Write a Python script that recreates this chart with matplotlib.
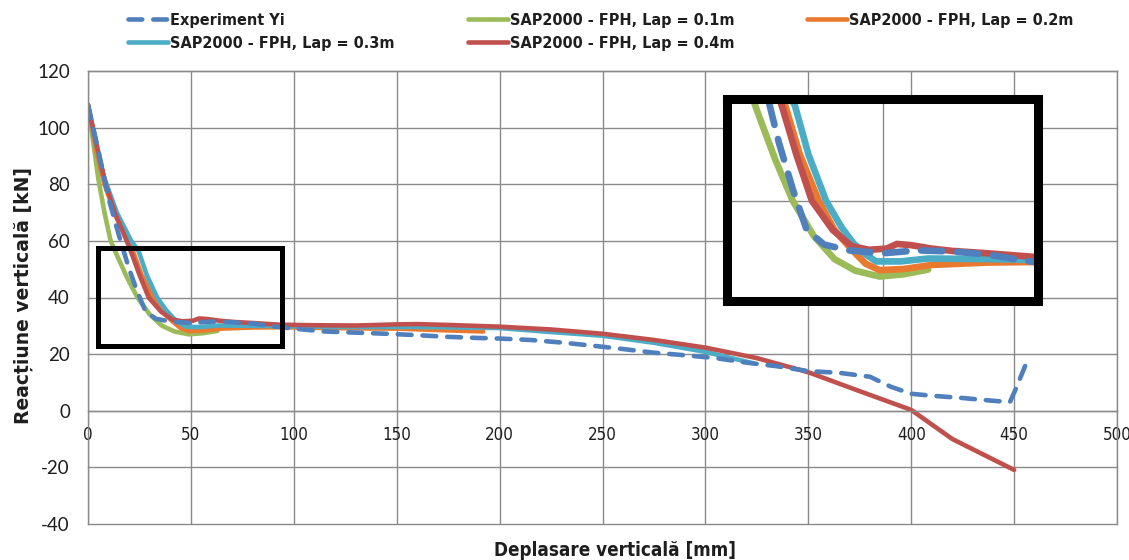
import matplotlib
matplotlib.use('Agg')
import matplotlib.pyplot as plt
from matplotlib.patches import Rectangle
from matplotlib.font_manager import FontProperties, fontManager
import numpy as np

plt.rcParams['axes.unicode_minus'] = False

# Curbe reacțiune - deplasare (x [mm], y [kN])
exp_x = [0, 5, 10, 15, 20, 24, 28, 33, 40, 50, 60, 70, 80, 90, 100, 115, 130, 145, 160,
         175, 190, 200, 215, 230, 245, 260, 275, 290, 305, 320, 335, 350, 365, 380, 390,
         400, 410, 425, 440, 448, 451, 456]
exp_y = [108, 92, 75, 62, 50, 42, 35, 32.5, 31.5, 31, 31.5, 31.3, 30.8, 29.8, 29, 28, 27.6,
         27.2, 26.7, 26.1, 25.7, 25.5, 25, 24.1, 23, 21.8, 20.5, 19.6, 18.6, 17, 15.7, 14,
         13.4, 12, 8.5, 6, 5.3, 4.5, 3.5, 3.1, 8, 17]

lap01_x = [0, 2.5, 5, 8, 11, 14, 19, 24, 30, 36, 42, 49, 56, 63]
lap01_y = [108, 95, 82, 70, 60, 55, 47, 40, 34, 30, 28, 27, 27.4, 28.2]

lap02_x = [0, 4, 8, 14, 21, 26, 31.5, 36, 41, 45, 49, 56, 64, 80, 93, 110, 130, 150, 170, 192]
lap02_y = [108, 92, 80, 68, 58, 48, 40, 35, 31.6, 29.2, 28.1, 28.3, 29, 29.4, 29.5, 29.3,
           29.1, 29, 28.5, 28]

lap03_x = [0, 4, 8, 14, 21, 24.6, 28.5, 33.6, 38, 41.5, 45, 48, 55, 63, 80, 100, 130, 160,
           200, 225, 250, 275, 300, 323]
lap03_y = [108, 94, 82, 70, 60, 56.4, 48, 40, 35.5, 32.7, 30.8, 29.6, 29.6, 30.1, 30, 29.8,
           29.6, 29.6, 29.2, 27.8, 26.5, 24, 20.8, 16.8]

lap04_x = [0, 3, 6, 8.6, 13, 18.8, 21, 25, 29.5, 35.5, 41, 46, 51, 54, 58, 64, 70, 80, 93,
           110, 130, 150, 160, 175, 200, 225, 250, 275, 300, 325, 350, 375, 400, 420, 450]
lap04_y = [108, 98, 88, 80, 70, 60, 56, 48, 40, 35, 32.2, 31.6, 31.8, 32.6, 32.4, 31.8, 31.4,
           31, 30.4, 30.2, 30.1, 30.5, 30.6, 30.3, 29.7, 28.7, 27.2, 25, 22.3, 18.6, 13.6,
           6.9, 0.3, -10, -20.9]

etichete = ['Experiment Yi', 'SAP2000 - FPH, Lap = 0.1m', 'SAP2000 - FPH, Lap = 0.2m',
            'SAP2000 - FPH, Lap = 0.3m', 'SAP2000 - FPH, Lap = 0.4m']
culori = ['#4f7fbc', '#9bbb59', '#e8792e', '#4bacc6', '#c0504d']

x_ticks = np.arange(0, 501, 50)
y_ticks = np.arange(-40, 121, 20)
zoom_x = (4.9, 94.5)
zoom_y = (22.8, 57.5)

# font ingust pentru axa X si legenda, daca exista
fonturi = fontManager.ttflist
if any(f.name == 'Liberation Sans Narrow' for f in fonturi):
    narrow = dict(family=['Liberation Sans Narrow', 'DejaVu Sans'], stretch='normal')
    k = 1.0
elif any(f.name == 'DejaVu Sans' and f.stretch == 'condensed' for f in fonturi):
    narrow = dict(family=['DejaVu Sans'], stretch='condensed')
    k = 0.9
else:
    narrow = dict(family=['Liberation Sans', 'DejaVu Sans'], stretch='normal')
    k = 0.84

grila = '#8a8a8a'
text_col = '#1e1e1e'

fig = plt.figure(figsize=(11.29, 5.6), dpi=100)
ax = fig.add_axes([88 / 1129, 36 / 560, 1029 / 1129, 453 / 560])


def deseneaza(a, lw, dash):
    linii = []
    serii = [(lap01_x, lap01_y), (lap02_x, lap02_y), (lap03_x, lap03_y), (lap04_x, lap04_y)]
    for (xs, ys), c, lab in zip(serii, culori[1:], etichete[1:]):
        l, = a.plot(xs, ys, color=c, lw=lw, label=lab,
                    solid_capstyle='round', solid_joinstyle='round')
        linii.append(l)
    l, = a.plot(exp_x, exp_y, color=culori[0], lw=lw, dashes=dash, label=etichete[0],
                dash_capstyle='round', dash_joinstyle='round')
    return [l] + linii


handles = deseneaza(ax, 3.3, (3.0, 2.4))

ax.set_xlim(0, 500)
ax.set_ylim(-40, 120)
ax.set_xticks(x_ticks)
ax.set_yticks(y_ticks)
ax.grid(True, color=grila, lw=1.0)
ax.set_axisbelow(True)
for gl in ax.get_xgridlines() + ax.get_ygridlines():
    gl.set_clip_on(False)
for s in ['left', 'right', 'top']:
    ax.spines[s].set_color(grila)
    ax.spines[s].set_linewidth(1.0)
ax.spines['bottom'].set_position(('data', 0))
ax.spines['bottom'].set_color(grila)
ax.spines['bottom'].set_linewidth(1.0)
ax.tick_params(axis='both', length=0)
ax.tick_params(axis='x', pad=11)
ax.tick_params(axis='y', pad=13)
for t in ax.get_xticklabels():
    t.set_fontfamily(narrow['family'])
    t.set_fontstretch(narrow['stretch'])
    t.set_fontsize(13.5 * k)
    t.set_color(text_col)
for t in ax.get_yticklabels():
    t.set_fontfamily(['Lato', 'DejaVu Sans'])
    t.set_fontsize(13.5)
    t.set_color(text_col)

# chenarul zonei marite
ax.add_patch(Rectangle((zoom_x[0], zoom_y[0]), zoom_x[1] - zoom_x[0], zoom_y[1] - zoom_y[0],
                       fill=False, ec='black', lw=3.6, zorder=6))

# detaliu marit
axi = fig.add_axes([726.5 / 1129, (560 - 301) / 560, 311 / 1129, 202 / 560])
axi.set_facecolor('white')
deseneaza(axi, 4.8, (3.2, 2.2))
axi.set_xlim(*zoom_x)
axi.set_ylim(*zoom_y)
axi.set_xticks([50])
axi.set_yticks([40])
axi.set_xticklabels([])
axi.set_yticklabels([])
axi.tick_params(length=0)
axi.grid(True, color=grila, lw=1.0)
axi.set_axisbelow(True)
for s in axi.spines.values():
    s.set_color('black')
    s.set_linewidth(6.5)
    s.set_zorder(10)

leg_size = 12.9 * k
leg_px = leg_size * 100 / 72
fp_leg = FontProperties(family=narrow['family'], stretch=narrow['stretch'],
                        weight='bold', size=leg_size)
ordine = [0, 3, 1, 4, 2]
fig.legend([handles[i] for i in ordine], [etichete[i] for i in ordine], ncol=3,
           loc='upper left', bbox_to_anchor=(128 / 1129, 1 - 13 / 560), frameon=False,
           prop=fp_leg, handlelength=40 / leg_px, handletextpad=2 / leg_px,
           columnspacing=73 / leg_px, labelspacing=0.5, borderpad=0, borderaxespad=0,
           labelcolor=text_col)

fig.text(615 / 1129, 1 - 551 / 560, 'Deplasare verticală [mm]', ha='center', va='center',
         fontfamily=narrow['family'], fontstretch=narrow['stretch'], fontweight='bold',
         fontsize=15 * k, color=text_col)
fig.text(23 / 1129, 1 - 296 / 560, 'Reacțiune verticală [kN]', ha='center', va='center',
         rotation=90, fontfamily='DejaVu Sans', fontweight='bold', fontsize=13.5,
         color=text_col)

fig.savefig('out.png', dpi=100)
